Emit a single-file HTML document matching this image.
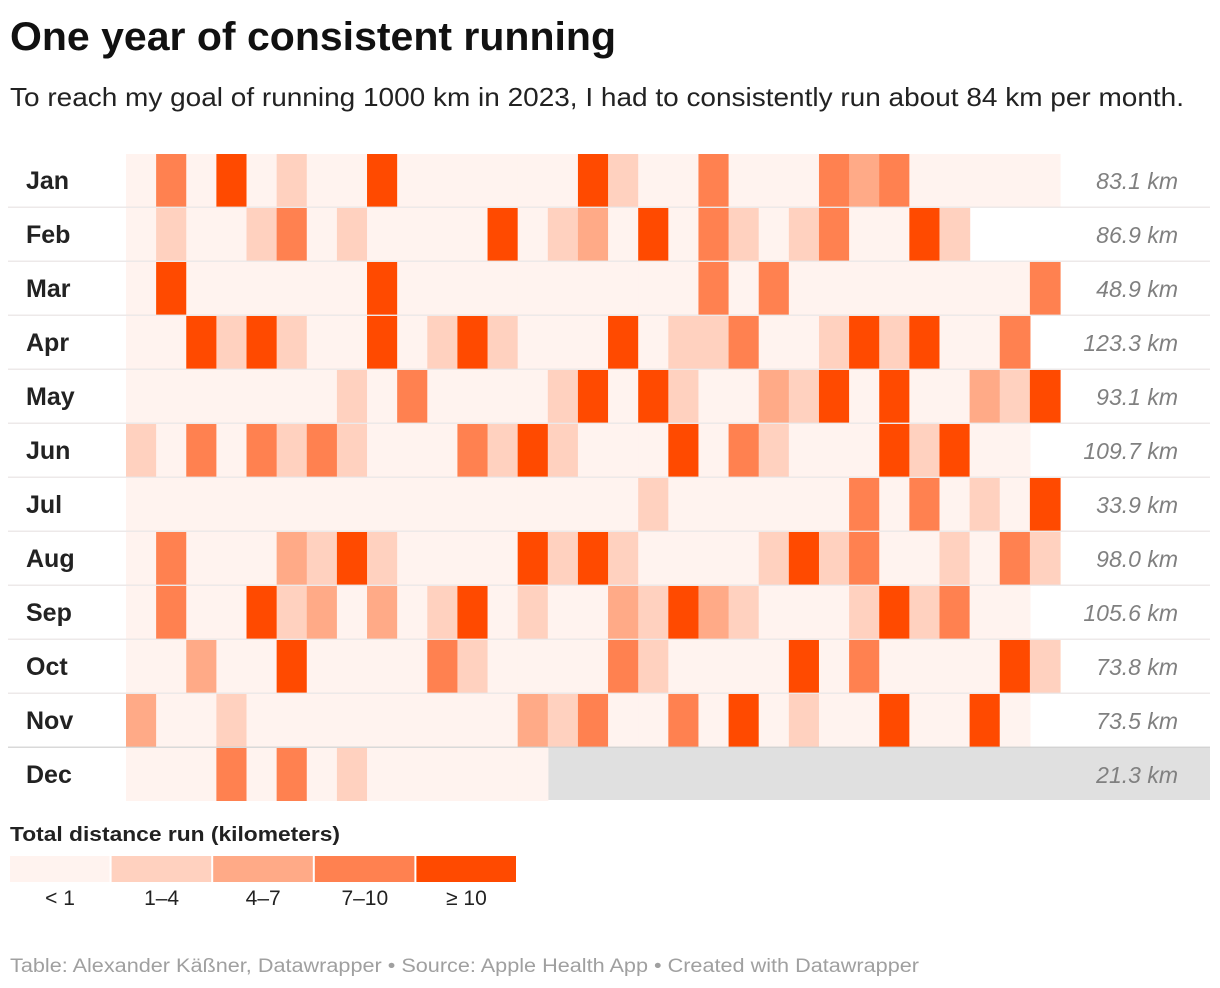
<!DOCTYPE html>
<html><head><meta charset="utf-8"><style>
html,body{margin:0;padding:0;background:#fff;width:1220px;height:988px;overflow:hidden}
svg{display:block;font-family:"Liberation Sans",sans-serif}
</style></head><body>
<svg id="chart" width="1220" height="988" viewBox="0 0 1220 988">
<text x="10" y="50" font-size="40" font-weight="bold" fill="#111" textLength="606" lengthAdjust="spacingAndGlyphs">One year of consistent running</text>
<text x="10" y="106" font-size="26" fill="#222" textLength="1174" lengthAdjust="spacingAndGlyphs">To reach my goal of running 1000 km in 2023, I had to consistently run about 84 km per month.</text>
<g id="grid"></g>
<text x="10" y="841" font-size="20" font-weight="bold" fill="#222" textLength="330" lengthAdjust="spacingAndGlyphs">Total distance run (kilometers)</text>
<g id="legend"></g>
<text x="10" y="972" font-size="19" fill="#a0a0a0" textLength="909" lengthAdjust="spacingAndGlyphs">Table: Alexander Käßner, Datawrapper • Source: Apple Health App • Created with Datawrapper</text>
</svg>
<script>
const months = ["Jan","Feb","Mar","Apr","May","Jun","Jul","Aug","Sep","Oct","Nov","Dec"];
const totals = ["83.1 km","86.9 km","48.9 km","123.3 km","93.1 km","109.7 km","33.9 km","98.0 km","105.6 km","73.8 km","73.5 km","21.3 km"];
const jan = [0,3,0,4,0,1,0,0,4,0,0,0,0,0,0,4,1,0,0,3,0,0,0,3,2,3,0,0,0,0,0];
const feb = [0,1,0,0,1,3,0,1,0,0,0,0,4,0,1,2,0,4,0,3,1,0,1,3,0,0,4,1];
const mar = [0,4,0,0,0,0,0,0,4,0,0,0,0,0,0,0,0,0,0,3,0,3,0,0,0,0,0,0,0,0,3];
const apr = [0,0,4,1,4,1,0,0,4,0,1,4,1,0,0,0,4,0,1,1,3,0,0,1,4,1,4,0,0,3];
const may = [0,0,0,0,0,0,0,1,0,3,0,0,0,0,1,4,0,4,1,0,0,2,1,4,0,4,0,0,2,1,4];
const jun = [1,0,3,0,3,1,3,1,0,0,0,3,1,4,1,0,0,0,4,0,3,1,0,0,0,4,1,4,0,0];
const jul = [0,0,0,0,0,0,0,0,0,0,0,0,0,0,0,0,0,1,0,0,0,0,0,0,3,0,3,0,1,0,4];
const aug = [0,3,0,0,0,2,1,4,1,0,0,0,0,4,1,4,1,0,0,0,0,1,4,1,3,0,0,1,0,3,1];
const sep = [0,3,0,0,4,1,2,0,2,0,1,4,0,1,0,0,2,1,4,2,1,0,0,0,1,4,1,3,0,0];
const oct = [0,0,2,0,0,4,0,0,0,0,3,1,0,0,0,0,3,1,0,0,0,0,4,0,3,0,0,0,0,4,1];
const nov = [2,0,0,1,0,0,0,0,0,0,0,0,0,2,1,3,0,0,3,0,4,0,1,0,0,4,0,0,4,0];
const dec = [0,0,0,3,0,3,0,1,0,0,0,0,0,0];
const levels = ["< 1","1–4","4–7","7–10","≥ 10"];
const rows = [jan,feb,mar,apr,may,jun,jul,aug,sep,oct,nov,dec];
const colors = ["#fff3ef","#ffd1bf","#ffaa87","#ff8150","#ff4a00"];
const NS="http://www.w3.org/2000/svg";
const x0=126, cw=934/31, y0=154, rh=54;
const xPos=d=>x0+d*cw, yPos=m=>y0+m*rh;
const g=document.getElementById('grid');
function mk(t,a,p){const e=document.createElementNS(NS,t);for(const k in a)e.setAttribute(k,a[k]);p.appendChild(e);return e;}
// Dec grey area
const grey=mk('rect',{x:xPos(dec.length),y:yPos(11)-1,width:1210-xPos(dec.length),height:rh-1,fill:'#e0e0e0'},g);


rows.forEach((r,m)=>{
  r.forEach((v,d)=>{
    const c=mk('rect',{x:xPos(d),y:yPos(m),width:cw+0.6,height:rh-1,fill:colors[v]},g);
    
    
  });
  const lab=mk('text',{x:26,y:yPos(m)+35,'font-size':25,'font-weight':'bold',fill:'#222'},g);
  lab.textContent=months[m];
  
  
  const tt=mk('text',{x:1178,y:yPos(m)+35,'font-size':23,'font-style':'italic',fill:'#808080','text-anchor':'end'},g);
  tt.textContent=totals[m];
  
  
  if(m<11){
    const ln=mk('rect',{x:8,y:yPos(m)+rh-1.5,width:1202,height:1.5,fill:m==10?'#d0d0d0':'#e8e4e3',opacity:0.8},g);
    
    
  }
});
const lg=document.getElementById('legend');
levels.forEach((l,i)=>{
  const lx=10+i*101.6;
  const r=mk('rect',{x:lx,y:856,width:99.6,height:26,fill:colors[i]},lg);
  
  
  const t=mk('text',{x:lx+50,y:905,'font-size':21,fill:'#222','text-anchor':'middle'},lg);
  t.textContent=l;
  
  
});
</script>
</body></html>
